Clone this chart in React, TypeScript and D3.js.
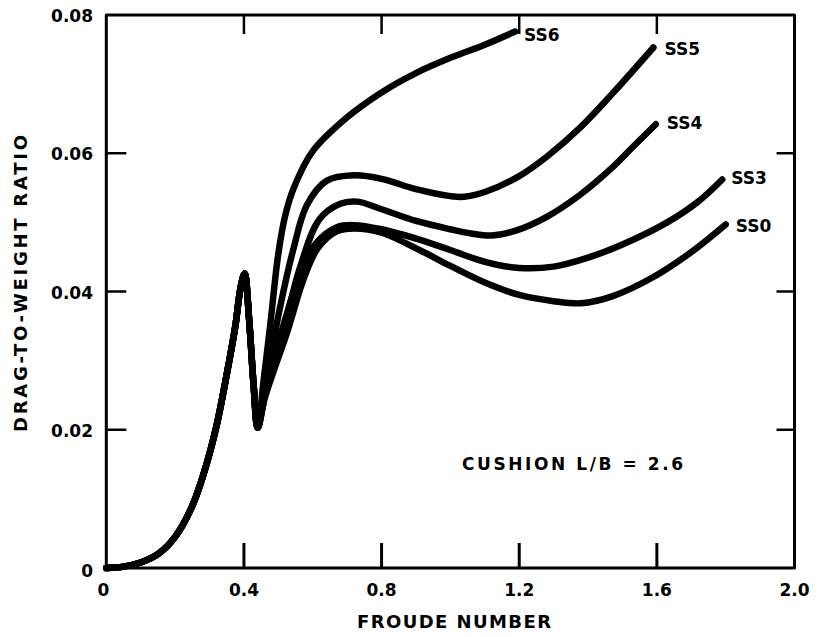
import React from "react";
import * as d3 from "d3";

// Shared rising part (all sea states coincide up to the hump/dip)
const baseFroude = [0, 0.05, 0.1, 0.15, 0.2, 0.25, 0.29, 0.32, 0.35, 0.375, 0.39, 0.402, 0.415, 0.428, 0.44];
const baseDrag = [0, 0.0002, 0.0008, 0.002, 0.0045, 0.009, 0.0148, 0.0205, 0.028, 0.035, 0.0405, 0.0426, 0.036, 0.0265, 0.0203];

const ss0Froude = [0.46, 0.49, 0.525, 0.575, 0.615, 0.67, 0.72, 0.8, 0.91, 1.0, 1.1, 1.2, 1.3, 1.38, 1.47, 1.59, 1.7, 1.8];
const ss0Drag = [0.0245, 0.029, 0.034, 0.042, 0.0463, 0.0487, 0.0491, 0.0485, 0.046, 0.0437, 0.0413, 0.0395, 0.0386, 0.0383, 0.0393, 0.0421, 0.0457, 0.0497];

const ss3Froude = [0.46, 0.49, 0.52, 0.565, 0.61, 0.67, 0.72, 0.8, 0.91, 1.0, 1.1, 1.2, 1.3, 1.4, 1.5, 1.63, 1.72, 1.79];
const ss3Drag = [0.025, 0.0305, 0.036, 0.0428, 0.047, 0.0493, 0.0496, 0.049, 0.0475, 0.046, 0.0443, 0.0434, 0.0436, 0.0449, 0.0468, 0.05, 0.053, 0.0562];

const ss4Froude = [0.465, 0.49, 0.52, 0.563, 0.62, 0.68, 0.73, 0.8, 0.9, 1.0, 1.06, 1.12, 1.19, 1.28, 1.377, 1.474, 1.53, 1.597];
const ss4Drag = [0.026, 0.031, 0.0355, 0.0435, 0.0505, 0.0527, 0.053, 0.0519, 0.0502, 0.049, 0.0484, 0.0481, 0.0488, 0.0508, 0.054, 0.0581, 0.0609, 0.0642];

const ss5Froude = [0.46, 0.48, 0.5, 0.543, 0.583, 0.64, 0.72, 0.8, 0.9, 1.0, 1.04, 1.1, 1.2, 1.28, 1.377, 1.474, 1.59];
const ss5Drag = [0.0262, 0.031, 0.0365, 0.046, 0.0525, 0.056, 0.0568, 0.0563, 0.0548, 0.0538, 0.0537, 0.0544, 0.0567, 0.0595, 0.0637, 0.0688, 0.0753];

const ss6Froude = [0.458, 0.476, 0.5, 0.52, 0.545, 0.6, 0.7, 0.8, 0.9, 1.0, 1.1, 1.188];
const ss6Drag = [0.0275, 0.035, 0.0455, 0.051, 0.055, 0.0603, 0.0652, 0.0688, 0.0716, 0.0738, 0.0757, 0.0776];

const seriesNames = ["SS0", "SS3", "SS4", "SS5", "SS6"];
const seriesFroude = [ss0Froude, ss3Froude, ss4Froude, ss5Froude, ss6Froude];
const seriesDrag = [ss0Drag, ss3Drag, ss4Drag, ss5Drag, ss6Drag];

const xTicks = [0, 0.4, 0.8, 1.2, 1.6, 2.0];
const xTickLabels = ["0", "0.4", "0.8", "1.2", "1.6", "2.0"];
const yTicks = [0, 0.02, 0.04, 0.06, 0.08];
const yTickLabels = ["0", "0.02", "0.04", "0.06", "0.08"];

const xTitle = "FROUDE NUMBER";
const yTitle = "DRAG-TO-WEIGHT RATIO";
const note = "CUSHION L/B = 2.6";

const FONT = "'DejaVu Sans', 'Liberation Sans', Arial, sans-serif";

export default function App() {
  const W = 818, H = 637;
  const x = d3.scaleLinear().domain([0, 2]).range([106.3, 794.5]);
  const y = d3.scaleLinear().domain([0, 0.08]).range([568, 15]);
  const line = d3
    .line<[number, number]>()
    .x((d) => x(d[0]))
    .y((d) => y(d[1]))
    .curve(d3.curveCatmullRom.alpha(0.5));

  const paths = seriesNames.map((name, i) => {
    const pts: [number, number][] = [];
    baseFroude.forEach((f, j) => pts.push([f, baseDrag[j]]));
    seriesFroude[i].forEach((f, j) => pts.push([f, seriesDrag[i][j]]));
    return { name, d: line(pts) as string, last: pts[pts.length - 1] };
  });

  // label offsets (pixels) relative to each curve end
  const labelOffsets: Record<string, [number, number]> = {
    SS0: [10, 8],
    SS3: [9, 4],
    SS4: [11, 5],
    SS5: [11, 8],
    SS6: [9, 9],
  };

  const x0 = x(0), x1 = x(2), y0 = y(0), y1 = y(0.08);

  return (
    <svg
      width={W}
      height={H}
      style={{ position: "absolute", left: 0, top: 0, background: "#fff" }}
      fontFamily={FONT}
    >
      <rect x={0} y={0} width={W} height={H} fill="#fff" />
      {/* frame */}
      <path
        d={`M${x0},${y0} L${x0},${y1} L${x1},${y1} L${x1},${y0} Z`}
        fill="none"
        stroke="#000"
        strokeWidth={3}
        strokeLinejoin="round"
      />
      {/* bottom ticks */}
      {xTicks.slice(1, -1).map((t) => (
        <line key={"bx" + t} x1={x(t)} x2={x(t)} y1={y0} y2={y0 - 25} stroke="#000" strokeWidth={3} />
      ))}
      {/* top ticks */}
      {xTicks.slice(1, -1).map((t) => (
        <line key={"tx" + t} x1={x(t)} x2={x(t)} y1={y1} y2={y1 + 19} stroke="#000" strokeWidth={2.5} />
      ))}
      {/* left ticks */}
      {yTicks.slice(1, -1).map((t) => (
        <line key={"ly" + t} x1={x0} x2={x0 + 20} y1={y(t)} y2={y(t)} stroke="#000" strokeWidth={2.5} />
      ))}
      {/* right ticks */}
      {yTicks.slice(1, -1).map((t) => (
        <line key={"ry" + t} x1={x1} x2={x1 - 18} y1={y(t)} y2={y(t)} stroke="#000" strokeWidth={2.5} />
      ))}
      {/* x tick labels */}
      {xTicks.map((t, i) => (
        <text
          key={"xl" + t}
          x={x(t) - (i === 0 ? 3 : 0)}
          y={596}
          textAnchor="middle"
          fontSize={17}
          fontWeight="bold"
        >
          {xTickLabels[i]}
        </text>
      ))}
      {/* y tick labels */}
      {yTicks.map((t, i) => (
        <text
          key={"yl" + t}
          x={93}
          y={y(t) + (i === 0 ? 9 : 7)}
          textAnchor="end"
          fontSize={17}
          fontWeight="bold"
        >
          {yTickLabels[i]}
        </text>
      ))}
      {/* axis titles */}
      <text
        x={454}
        y={628}
        textAnchor="middle"
        fontSize={18}
        fontWeight="bold"
        textLength={194}
        lengthAdjust="spacing"
      >
        {xTitle}
      </text>
      <text
        transform={`translate(27,${(135 + 432) / 2}) rotate(-90)`}
        textAnchor="middle"
        fontSize={18}
        fontWeight="bold"
        textLength={297}
        lengthAdjust="spacing"
      >
        {yTitle}
      </text>
      {/* curves */}
      {paths.map((p) => (
        <path
          key={p.name}
          d={p.d}
          fill="none"
          stroke="#000"
          strokeWidth={6.5}
          strokeLinecap="round"
          strokeLinejoin="round"
        />
      ))}
      {/* curve labels */}
      {paths.map((p) => (
        <text
          key={"lab" + p.name}
          x={x(p.last[0]) + labelOffsets[p.name][0]}
          y={y(p.last[1]) + labelOffsets[p.name][1]}
          fontSize={17}
          fontWeight="bold"
        >
          {p.name}
        </text>
      ))}
      {/* annotation */}
      <text x={462} y={470} fontSize={17} fontWeight="bold" textLength={221} lengthAdjust="spacing">
        {note}
      </text>
    </svg>
  );
}
